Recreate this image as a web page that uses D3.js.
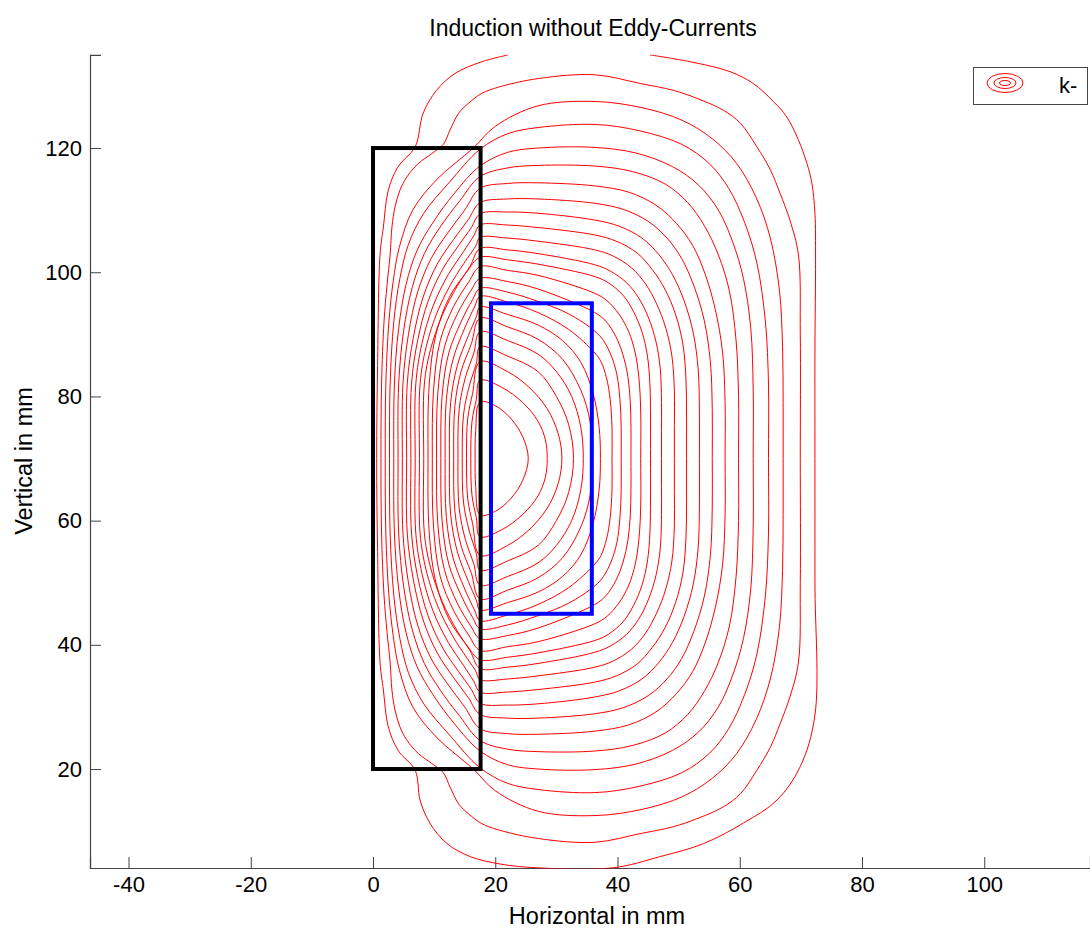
<!DOCTYPE html>
<html>
<head>
<meta charset="utf-8">
<script src="https://cdn.jsdelivr.net/npm/d3@7"></script>
<style>
  body { margin: 0; background: #fff; }
  text { font-family: "Liberation Sans", Arial, sans-serif; }
</style>
</head>
<body>
<div id="chart"></div>
<script>
var W = 1090, H = 931;

var xTicks = [-40, -20, 0, 20, 40, 60, 80, 100];
var yTicks = [20, 40, 60, 80, 100, 120];
var coil = {x0: 0, x1: 17.6, y0: 20, y1: 120};
var workpiece = {x0: 19.3, x1: 35.8, y0: 45, y1: 95};

// outermost flux line, cut by the edges of the computed region
var outerLine = [[22.1,135],[17.8,133.9],[13.4,132],[10.4,129.3],[8.2,125.6],[6.9,120.2],[4.1,117],[2.5,113.2],[1.7,107.3],[1.15,102.8],[0.75,85],[0.6,70],[0.75,55],[1.15,37.2],[1.7,32.7],[2.5,26.8],[4.1,23],[6.9,19.8],[7.7,15],[9.3,11.3],[12.1,8.0],[15.9,5.9],[20.8,4.7],[26.8,4.1],[39.3,4.1],[47,5.9],[54.1,8.0],[60.6,11.3],[66.1,15],[69.9,20.4],[72.3,28.7],[72.3,50],[72.3,70],[72.3,87.5],[72.4,102],[72.3,109.5],[71.8,114.3],[71,117.5],[69.6,121.3],[67.7,125],[65.5,127.5],[62.2,130.4],[58.4,132.3],[51.9,133.9],[45.3,135]];

// closed flux lines, outer to inner (x, y in mm)
var fluxLoops = [
  [[1.3,70],[1.4,82],[1.8,92],[2.3,98],[2.8,102.8],[3.1,107.3],[3.6,110.5],[4.4,113.2],[5.5,115.3],[7.4,117.5],[9.6,119.1],[11.5,120.6],[12.6,122.9],[14,125.6],[15.6,127.2],[17.8,128.8],[20.5,129.8],[27.1,131.2],[36.3,131.8],[43.7,130.4],[49.1,129.3],[53.0,128.0],[57.3,126.1],[60.1,124.0],[62.8,120.2],[65.0,116.5],[66.6,112.7],[68.2,108.4],[69.6,102.8],[69.9,90],[69.9,70],
   [69.9,50],[69.6,37.2],[68.2,31.6],[66.6,27.3],[65.0,23.5],[62.8,19.8],[60.1,16.0],[57.3,13.9],[53.0,12.0],[49.1,10.7],[43.7,9.6],[36.3,8.2],[27.1,8.8],[20.5,10.2],[17.8,11.2],[15.6,12.8],[14,14.4],[12.6,17.1],[11.5,19.4],[9.6,20.9],[7.4,22.5],[5.5,24.7],[4.4,26.8],[3.6,29.5],[3.1,32.7],[2.8,37.2],[2.3,42],[1.8,48],[1.4,58]],
  [[2.0,70],[2.1,82],[2.6,92],[3.3,98.5],[4.3,104],[6.5,110],[10.5,115],[16.4,120],[20,123.5],[27,126.8],[36.3,127.5],[44,126.5],[50.5,124.5],[55.5,121.5],[59.5,117.5],[62.7,112],[65,105.5],[66.5,97],[67,88],[67.1,79],[67.1,70],
   [67.1,61],[67,52],[66.5,43],[65,34.5],[62.7,28],[59.5,22.5],[55.5,18.5],[50.5,15.5],[44,13.5],[36.3,12.5],[27,13.2],[20,16.5],[16.4,20],[10.5,25],[6.5,30],[4.3,36],[3.3,41.5],[2.6,48],[2.1,58]],
  [[2.7,70],[2.8,82],[3.4,92],[4.4,99],[5.8,104.5],[8.3,109.5],[12.5,114.5],[17.5,119.8],[22,122.3],[27,123.3],[36.3,123.8],[43.5,122.8],[50.5,120.6],[55,117.5],[58.2,113.5],[60.8,108],[62.8,101.5],[64.2,92],[64.7,82],[64.7,70],
   [64.7,58],[64.2,48],[62.8,38.5],[60.8,32],[58.2,26.5],[55,22.5],[50.5,19.4],[43.5,17.2],[36.3,16.2],[27,16.7],[22,17.7],[17.5,20.2],[12.5,25.5],[8.3,30.5],[5.8,35.5],[4.4,41],[3.4,48],[2.8,58]],
  [[3.4,70],[3.5,82],[4.2,91],[5.4,98],[7.2,103.5],[9.8,108],[13.3,112.7],[17.5,117.1],[22,119.3],[27,120],[36.3,120.1],[43,119.2],[49,117],[53.3,114],[56.5,110],[58.8,105],[60.6,99],[61.8,91],[62.2,81],[62.2,70],
   [62.2,59],[61.8,49],[60.6,41],[58.8,35],[56.5,30],[53.3,26],[49,23],[43,20.8],[36.3,19.9],[27,20],[22,20.7],[17.5,22.9],[13.3,27.3],[9.8,32],[7.2,36.5],[5.4,42],[4.2,49],[3.5,58]],
  [[4.1,70],[4.2,82],[5,90.5],[6.4,97.5],[8.4,103],[11,107.3],[14.2,111.5],[17.5,115.4],[22,116.8],[27,117.2],[36.3,117.1],[42.5,116.2],[47.8,114.2],[51.5,111.2],[54.2,107.5],[56.5,102.8],[58.3,97],[59.4,89],[59.8,80],[59.8,70],
   [59.8,60],[59.4,51],[58.3,43],[56.5,37.2],[54.2,32.5],[51.5,28.8],[47.8,25.8],[42.5,23.8],[36.3,22.9],[27,22.8],[22,23.2],[17.5,24.6],[14.2,28.5],[11,32.7],[8.4,37],[6.4,42.5],[5,49.5],[4.2,58]],
  [[4.8,70],[4.9,82],[5.8,90],[7.3,96.8],[9.5,102.2],[12.2,106.3],[15,110],[17.5,113.5],[22,114.3],[27,114.4],[36.3,113.9],[41.8,112.9],[46.3,110.8],[49.7,107.8],[52.3,104.3],[54.3,99.8],[56,94],[57.2,87],[57.6,79],[57.6,70],
   [57.6,61],[57.2,53],[56,46],[54.3,40.2],[52.3,35.7],[49.7,32.2],[46.3,29.2],[41.8,27.1],[36.3,26.1],[27,25.6],[22,25.7],[17.5,26.5],[15,30],[12.2,33.7],[9.5,37.8],[7.3,43.2],[5.8,50],[4.9,58]],
  [[5.5,70],[5.6,82],[6.6,89.5],[8.2,96],[10.5,101.3],[13.2,105.3],[15.6,108.5],[17.5,111.2],[22,111.8],[27,111.8],[36.3,111.1],[41,110.1],[45,108.2],[48.1,105.5],[50.5,102.2],[52.5,97.8],[54.2,92.2],[55.2,85.5],[55.5,78],[55.5,70],
   [55.5,62],[55.2,54.5],[54.2,47.8],[52.5,42.2],[50.5,37.8],[48.1,34.5],[45,31.8],[41,29.9],[36.3,28.9],[27,28.2],[22,28.2],[17.5,28.8],[15.6,31.5],[13.2,34.7],[10.5,38.7],[8.2,44],[6.6,50.5],[5.6,58]],
  [[6.2,70],[6.3,82],[7.3,89],[9,95.3],[11.4,100.5],[14,104.3],[16.1,107.2],[17.5,109.4],[22,109.7],[27,109.5],[36.3,108.4],[40.3,107.4],[44,105.5],[46.8,102.8],[49,99.6],[50.9,95.4],[52.4,90.2],[53.2,84.3],[53.4,77.5],[53.4,70],
   [53.4,62.5],[53.2,55.7],[52.4,49.8],[50.9,44.6],[49,40.4],[46.8,37.2],[44,34.5],[40.3,32.6],[36.3,31.6],[27,30.5],[22,30.3],[17.5,30.6],[16.1,32.8],[14,35.7],[11.4,39.5],[9,44.7],[7.3,51],[6.3,58]],
  [[6.9,70],[7.0,82],[8,88.5],[9.8,94.5],[12.3,99.6],[14.8,103.3],[16.5,105.9],[17.5,107.6],[22,107.6],[27,107.2],[36.3,106.0],[39.8,105],[43.2,103.1],[45.7,100.4],[47.8,97.2],[49.5,93.2],[50.7,88.4],[51.2,82.8],[51.3,76.5],[51.3,70],
   [51.3,63.5],[51.2,57.2],[50.7,51.6],[49.5,46.8],[47.8,42.8],[45.7,39.6],[43.2,36.9],[39.8,35],[36.3,34],[27,32.8],[22,32.4],[17.5,32.4],[16.5,34.1],[14.8,36.7],[12.3,40.4],[9.8,45.5],[8,51.5],[7.0,58]],
  [[7.6,70],[7.7,82],[8.7,88],[10.6,93.8],[13.1,98.7],[15.4,102.2],[16.8,104.2],[17.5,105.6],[22,105.5],[27,105],[36.3,103.6],[39.3,102.6],[42.3,100.7],[44.6,98.1],[46.4,94.9],[47.9,91],[48.9,86.5],[49.3,81],[49.3,75.5],[49.3,70],
   [49.3,64.5],[49.3,59],[48.9,53.5],[47.9,49],[46.4,45.1],[44.6,41.9],[42.3,39.3],[39.3,37.4],[36.3,36.4],[27,35],[22,34.5],[17.5,34.4],[16.8,35.8],[15.4,37.8],[13.1,41.3],[10.6,46.2],[8.7,52],[7.7,58]],
  [[8.3,70],[8.4,82],[9.4,87.5],[11.3,93],[13.8,97.8],[15.9,101],[17.5,103.8],[22,103.6],[27,103],[36.3,101.2],[38.8,100.2],[41.5,98.3],[43.5,95.8],[45.1,92.6],[46.3,88.8],[47,84.4],[47.2,79],[47.2,74.5],[47.2,70],
   [47.2,65.5],[47.2,61],[47,55.6],[46.3,51.2],[45.1,47.4],[43.5,44.2],[41.5,41.7],[38.8,39.8],[36.3,38.8],[27,37],[22,36.4],[17.5,36.2],[15.9,39],[13.8,42.2],[11.3,47],[9.4,52.5],[8.4,58]],
  [[9.0,70],[9.2,82],[10.3,90],[12.5,96],[15.3,100],[17.5,102.4],[22,102],[27,101.3],[36.3,99.3],[38.5,98.3],[40.9,96.3],[42.6,93.7],[44,90.4],[44.9,86.5],[45.3,82],[45.4,76.5],[45.4,70],
   [45.4,63.5],[45.3,58],[44.9,53.5],[44,49.6],[42.6,46.3],[40.9,43.7],[38.5,41.7],[36.3,40.7],[27,38.7],[22,38],[17.5,37.6],[15.3,40],[12.5,44],[10.3,50],[9.2,58]],
  [[9.7,70],[9.9,81],[11,89],[13.2,94.5],[15.7,98.5],[17.5,100.9],[22,100.3],[27,99.5],[36.3,96.6],[38.3,95.4],[40.2,93.3],[41.8,90.5],[42.9,87],[43.5,83],[43.8,77.5],[43.8,70],
   [43.8,62.5],[43.5,57],[42.9,53],[41.8,49.5],[40.2,46.7],[38.3,44.6],[36.3,43.4],[27,40.5],[22,39.7],[17.5,39.1],[15.7,41.5],[13.2,45.5],[11,51],[9.9,59]],
  [[10.4,70],[10.6,80.5],[11.7,88],[13.8,93.3],[16,97],[17.5,99],[22,98.5],[27,97.3],[36.3,93.5],[38.1,92.1],[39.7,89.7],[40.9,86.7],[41.7,83.2],[42.1,79],[42.2,75],[42.2,70],
   [42.2,65],[42.1,61],[41.7,56.8],[40.9,53.3],[39.7,50.3],[38.1,47.9],[36.3,46.5],[27,42.7],[22,41.5],[17.5,41],[16,43],[13.8,46.7],[11.7,52],[10.6,59.5]],
  [[11.1,70],[11.3,80],[12.4,87],[14.4,92],[16.3,95.6],[17.5,97.4],[22,96.8],[27,95.3],[32,93.3],[36.3,90.5],[37.7,89],[39,86.5],[39.9,83.5],[40.4,79.5],[40.6,75],[40.6,70],
   [40.6,65],[40.4,60.5],[39.9,56.5],[39,53.5],[37.7,51],[36.3,49.5],[32,46.7],[27,44.7],[22,43.2],[17.5,42.6],[16.3,44.4],[14.4,48],[12.4,53],[11.3,60]],
  [[11.8,70],[12.0,79.5],[13.1,86],[15,91],[16.6,94.4],[17.5,96.1],[22,95.2],[27,93.5],[32,90.8],[36.3,87],[37.3,85.6],[38.2,83],[38.8,79.5],[39.1,75],[39.1,70],
   [39.1,65],[38.8,60.5],[38.2,57],[37.3,54.4],[36.3,53],[32,49.2],[27,46.5],[22,44.8],[17.5,43.9],[16.6,45.6],[15,49],[13.1,54],[12.0,60.5]],
  [[12.5,70],[12.7,79],[13.8,85],[15.6,89.8],[16.9,92.8],[17.5,94.4],[22,93.2],[27,91.5],[31,89],[34,85.5],[36,80.5],[37,75],[37.2,70],
   [37,65],[36,59.5],[34,54.5],[31,51],[27,48.5],[22,46.8],[17.5,45.6],[16.9,47.2],[15.6,50.2],[13.8,55],[12.7,61]],
  [[13.2,70],[13.4,78.5],[14.4,84],[16.1,88.5],[17.5,92.6],[22,91.2],[27,89.2],[31,86],[34,81],[35.5,76],[35.9,70],
   [35.5,64],[34,59],[31,54],[27,50.8],[22,48.8],[17.5,47.4],[16.1,51.5],[14.4,56],[13.4,61.5]],
  [[13.9,70],[14.1,78],[15.1,83],[16.5,87],[17.5,90.4],[22,89],[27,86.8],[30,84],[32.5,80],[34,75],[34.4,70],
   [34,65],[32.5,60],[30,56],[27,53.2],[22,51],[17.5,49.6],[16.5,53],[15.1,57],[14.1,62]],
  [[14.6,70],[14.8,77],[15.7,81.5],[16.9,85.3],[17.5,88],[22,86.5],[27,84],[30,80],[32,75.5],[32.8,70],
   [32,64.5],[30,60],[27,56],[22,53.5],[17.5,52],[16.9,54.7],[15.7,58.5],[14.8,63]],
  [[15.3,70],[15.5,76.5],[16.3,80.5],[17.5,85.6],[22,84],[25.5,81.5],[28.5,78],[30.3,74],[30.9,70],
   [30.3,66],[28.5,62],[25.5,58.5],[22,56],[17.5,54.4],[16.3,59.5],[15.5,63.5]],
  [[16.0,70],[16.2,76],[16.9,79.5],[17.5,82.6],[21,81.5],[24.5,79],[27,76],[28.2,73],[28.5,70],
   [28.2,67],[27,64],[24.5,61],[21,58.5],[17.5,57.4],[16.9,60.5],[16.2,64]],
  [[16.7,70],[16.8,74.5],[17.5,79.1],[20,78.5],[22.5,76.5],[24.5,73.5],[25.4,70],
   [24.5,66.5],[22.5,63.5],[20,61.5],[17.5,60.9],[16.8,65.5]]
];

var svg = d3.select("#chart")
  .append("svg")
    .attr("width", W)
    .attr("height", H);

var x = d3.scaleLinear()
  .domain([-46.3, 117.3])
  .range([90, 1090]);

var y = d3.scaleLinear()
  .domain([4.06, 135])
  .range([868, 54.9]);

svg.append("defs").append("clipPath")
    .attr("id", "plotArea")
  .append("rect")
    .attr("x", 90).attr("y", 54.5)
    .attr("width", 1010).attr("height", 814);

var plot = svg.append("g").attr("clip-path", "url(#plotArea)");

var openLine = d3.line()
  .x(function(d) { return x(d[0]) })
  .y(function(d) { return y(d[1]) })
  .curve(d3.curveCatmullRom.alpha(0.5));

var loopLine = d3.line()
  .x(function(d) { return x(d[0]) })
  .y(function(d) { return y(d[1]) })
  .curve(d3.curveCatmullRomClosed.alpha(0.5));

// axes first, the outer flux line runs along the bottom axis
var xAxis = svg.append("g")
  .attr("transform", "translate(0,868)")
  .call(d3.axisBottom(x).tickValues(xTicks).tickSize(-11).tickPadding(8)
    .tickFormat(function(d) { return String(d) }));

var yAxis = svg.append("g")
  .attr("transform", "translate(90,0)")
  .call(d3.axisLeft(y).tickValues(yTicks).tickSize(-11).tickPadding(8)
    .tickFormat(function(d) { return String(d) }));

[xAxis, yAxis].forEach(function(g) {
  g.select(".domain").attr("stroke", "#444").attr("stroke-width", 1.2);
  g.selectAll(".tick line").attr("stroke", "#444");
  g.selectAll(".tick text")
    .attr("fill", "#000")
    .style("font-size", "22px")
    .style("font-family", "'Liberation Sans', Arial, sans-serif");
});

svg.node().appendChild(plot.node());

plot.append("path")
  .datum(outerLine)
  .attr("fill", "none")
  .attr("stroke", "#ff0000")
  .attr("stroke-width", 1)
  .attr("d", openLine);

plot.selectAll(".flux")
  .data(fluxLoops)
  .enter()
  .append("path")
    .attr("class", "flux")
    .attr("fill", "none")
    .attr("stroke", "#ff0000")
    .attr("stroke-width", 1)
    .attr("d", loopLine);

plot.append("rect")
  .attr("x", x(coil.x0))
  .attr("y", y(coil.y1))
  .attr("width", x(coil.x1) - x(coil.x0))
  .attr("height", y(coil.y0) - y(coil.y1))
  .attr("fill", "none")
  .attr("stroke", "#000")
  .attr("stroke-width", 4);

plot.append("rect")
  .attr("x", x(workpiece.x0))
  .attr("y", y(workpiece.y1))
  .attr("width", x(workpiece.x1) - x(workpiece.x0))
  .attr("height", y(workpiece.y0) - y(workpiece.y1))
  .attr("fill", "none")
  .attr("stroke", "#0000ff")
  .attr("stroke-width", 4);

svg.append("text")
  .attr("x", 593).attr("y", 36)
  .attr("text-anchor", "middle")
  .style("font-size", "23px")
  .text("Induction without Eddy-Currents");

svg.append("text")
  .attr("x", 597).attr("y", 924)
  .attr("text-anchor", "middle")
  .style("font-size", "23.5px")
  .text("Horizontal in mm");

svg.append("text")
  .attr("transform", "translate(32,461) rotate(-90)")
  .attr("text-anchor", "middle")
  .style("font-size", "23.5px")
  .text("Vertical in mm");

// legend
var legend = svg.append("g");
legend.append("rect")
  .attr("x", 973.5).attr("y", 67.5)
  .attr("width", 114).attr("height", 37)
  .attr("fill", "#fff")
  .attr("stroke", "#444");
[[18, 9.5], [11, 5.5], [5.5, 2.5]].forEach(function(r) {
  legend.append("ellipse")
    .attr("cx", 1005).attr("cy", 83)
    .attr("rx", r[0]).attr("ry", r[1])
    .attr("fill", "none")
    .attr("stroke", "#ff0000");
});
legend.append("text")
  .attr("x", 1059).attr("y", 93)
  .style("font-size", "22px")
  .text("k-");
</script>
</body>
</html>
